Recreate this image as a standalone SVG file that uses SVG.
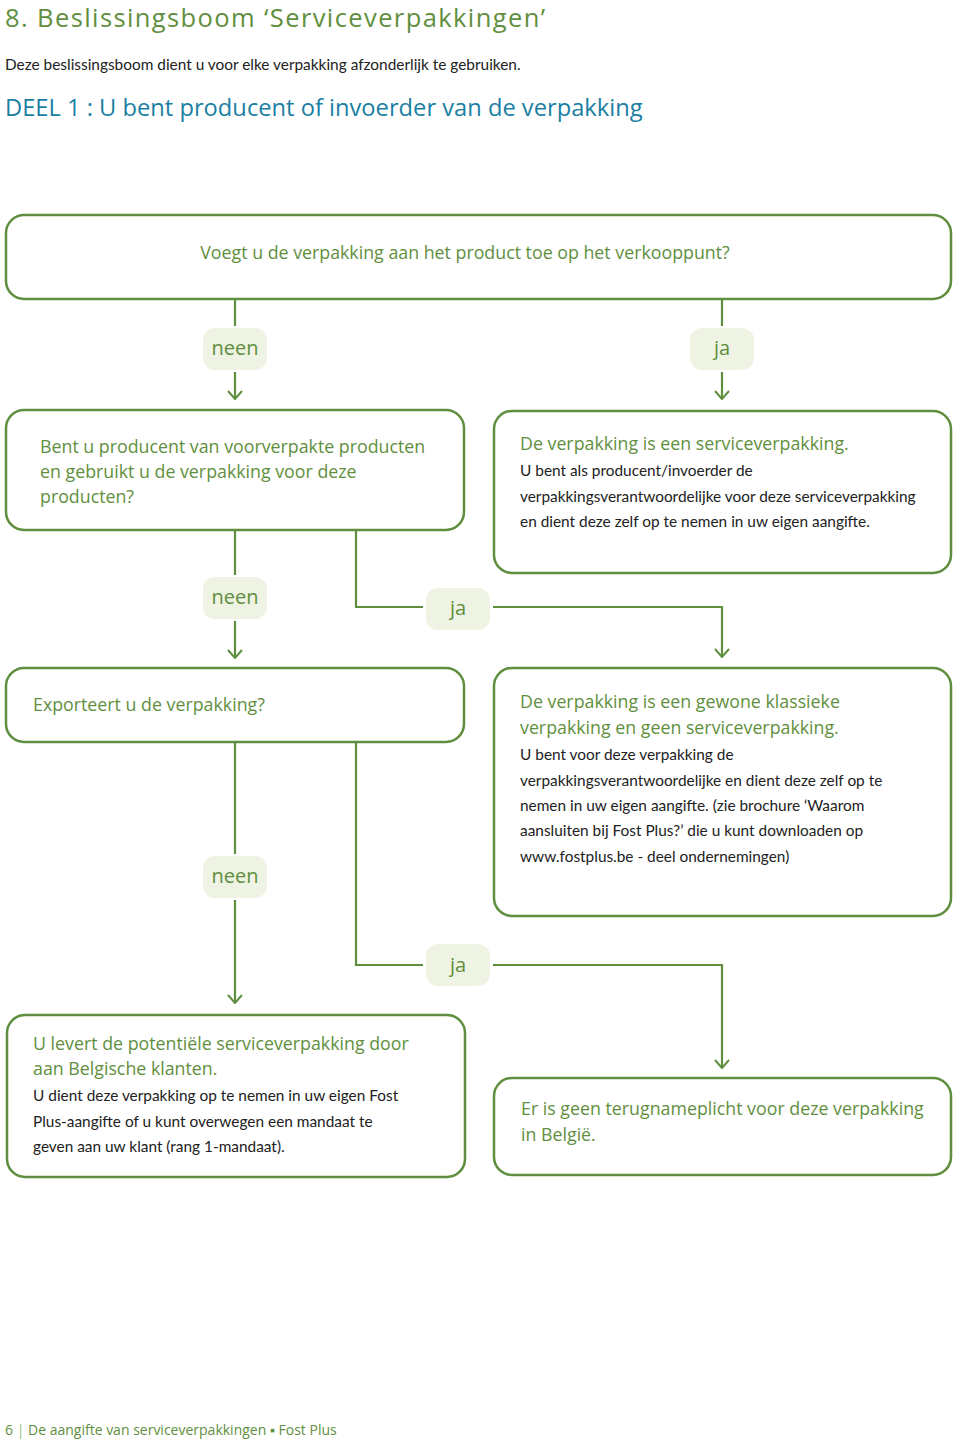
<svg xmlns="http://www.w3.org/2000/svg" width="960" height="1443" viewBox="0 0 960 1443">
<defs>
<marker id="arr" viewBox="0 0 12 16" refX="11" refY="8" markerWidth="12" markerHeight="16" markerUnits="userSpaceOnUse" orient="auto">
<polyline points="3,1 11,8 3,15" fill="none" stroke="#5f8f3e" stroke-width="2"/>
</marker>
<style>
.box{fill:#fff;stroke:#5f8f3e;stroke-width:2.5}
.pill{fill:#eef3e3;stroke:none}
.ln{fill:none;stroke:#5f8f3e;stroke-width:2.2}
.g{font-family:"Open Sans","Noto Sans",sans-serif;fill:#5f8f3e;font-size:17.8px}
.b{font-family:Lato,"Liberation Sans",sans-serif;fill:#222;font-size:15.4px}
.pl{font-family:"Open Sans","Noto Sans",sans-serif;fill:#5f8f3e;font-size:20px;text-anchor:middle}
</style>
</defs>
<rect width="960" height="1443" fill="#fff"/>
<text x="5" y="27" font-family="'Open Sans','Noto Sans',sans-serif" font-size="25.5" fill="#5f8f3e" textLength="540" lengthAdjust="spacing">8. Beslissingsboom ‘Serviceverpakkingen’</text>
<text x="5" y="70" class="b">Deze beslissingsboom dient u voor elke verpakking afzonderlijk te gebruiken.</text>
<text x="5" y="116" font-family="'Open Sans','Noto Sans',sans-serif" font-size="23.7" fill="#1b7fa3">DEEL 1 : U bent producent of invoerder van de verpakking</text>

<g id="connectors">
<path class="ln" d="M235,300 V326"/>
<path class="ln" d="M235,372 V399" marker-end="url(#arr)"/>
<path class="ln" d="M722,300 V326"/>
<path class="ln" d="M722,372 V399" marker-end="url(#arr)"/>
<path class="ln" d="M235,531 V575"/>
<path class="ln" d="M235,621 V658" marker-end="url(#arr)"/>
<path class="ln" d="M356,531 V607 H423"/>
<path class="ln" d="M493,607 H722 V657" marker-end="url(#arr)"/>
<path class="ln" d="M235,743 V854"/>
<path class="ln" d="M235,900 V1003" marker-end="url(#arr)"/>
<path class="ln" d="M356,743 V965 H423"/>
<path class="ln" d="M493,965 H722 V1068" marker-end="url(#arr)"/>
</g>

<g id="q1">
<rect class="box" x="6" y="215" width="945" height="84" rx="18"/>
<text class="g" x="465" y="259" text-anchor="middle">Voegt u de verpakking aan het product toe op het verkooppunt?</text>
</g>
<g id="lbl-neen-1"><rect class="pill" x="203" y="328" width="64" height="42" rx="12"/><text class="pl" x="235" y="355">neen</text></g>
<g id="lbl-ja-1"><rect class="pill" x="690" y="328" width="64" height="42" rx="12"/><text class="pl" x="722" y="355">ja</text></g>

<g id="q2">
<rect class="box" x="6" y="410" width="458" height="120" rx="18"/>
<text class="g" x="40" y="453">Bent u producent van voorverpakte producten</text>
<text class="g" x="40" y="478">en gebruikt u de verpakking voor deze</text>
<text class="g" x="40" y="503">producten?</text>
</g>
<g id="r1">
<rect class="box" x="494" y="411" width="457" height="162" rx="18"/>
<text class="g" x="520" y="450">De verpakking is een serviceverpakking.</text>
<text class="b" x="520" y="476">U bent als producent/invoerder de</text>
<text class="b" x="520" y="502">verpakkingsverantwoordelijke voor deze serviceverpakking</text>
<text class="b" x="520" y="527">en dient deze zelf op te nemen in uw eigen aangifte.</text>
</g>
<g id="lbl-neen-2"><rect class="pill" x="203" y="577" width="64" height="42" rx="12"/><text class="pl" x="235" y="604">neen</text></g>
<g id="lbl-ja-2"><rect class="pill" x="426" y="588" width="64" height="42" rx="12"/><text class="pl" x="458" y="615">ja</text></g>

<g id="q3">
<rect class="box" x="6" y="668" width="458" height="74" rx="18"/>
<text class="g" x="33" y="711">Exporteert u de verpakking?</text>
</g>
<g id="r2">
<rect class="box" x="494" y="668" width="457" height="248" rx="18"/>
<text class="g" x="520" y="708">De verpakking is een gewone klassieke</text>
<text class="g" x="520" y="734">verpakking en geen serviceverpakking.</text>
<text class="b" x="520" y="760">U bent voor deze verpakking de</text>
<text class="b" x="520" y="786">verpakkingsverantwoordelijke en dient deze zelf op te</text>
<text class="b" x="520" y="811">nemen in uw eigen aangifte. (zie brochure ‘Waarom</text>
<text class="b" x="520" y="836">aansluiten bij Fost Plus?’ die u kunt downloaden op</text>
<text class="b" x="520" y="862">www.fostplus.be - deel ondernemingen)</text>
</g>
<g id="lbl-neen-3"><rect class="pill" x="203" y="856" width="64" height="42" rx="12"/><text class="pl" x="235" y="883">neen</text></g>
<g id="lbl-ja-3"><rect class="pill" x="426" y="944" width="64" height="42" rx="12"/><text class="pl" x="458" y="972">ja</text></g>

<g id="r3">
<rect class="box" x="7" y="1015" width="458" height="162" rx="18"/>
<text class="g" x="33" y="1050">U levert de potentiële serviceverpakking door</text>
<text class="g" x="33" y="1075">aan Belgische klanten.</text>
<text class="b" x="33" y="1101">U dient deze verpakking op te nemen in uw eigen Fost</text>
<text class="b" x="33" y="1127">Plus-aangifte of u kunt overwegen een mandaat te</text>
<text class="b" x="33" y="1152">geven aan uw klant (rang 1-mandaat).</text>
</g>
<g id="r4">
<rect class="box" x="494" y="1078" width="457" height="97" rx="18"/>
<text class="g" x="521" y="1115">Er is geen terugnameplicht voor deze verpakking</text>
<text class="g" x="521" y="1141">in België.</text>
</g>

<text x="5" y="1435" font-family="'Open Sans','Noto Sans',sans-serif" font-size="14" fill="#5f8f3e">6 <tspan fill="#9bbb7d">|</tspan> De aangifte van serviceverpakkingen ▪ Fost Plus</text>
</svg>
